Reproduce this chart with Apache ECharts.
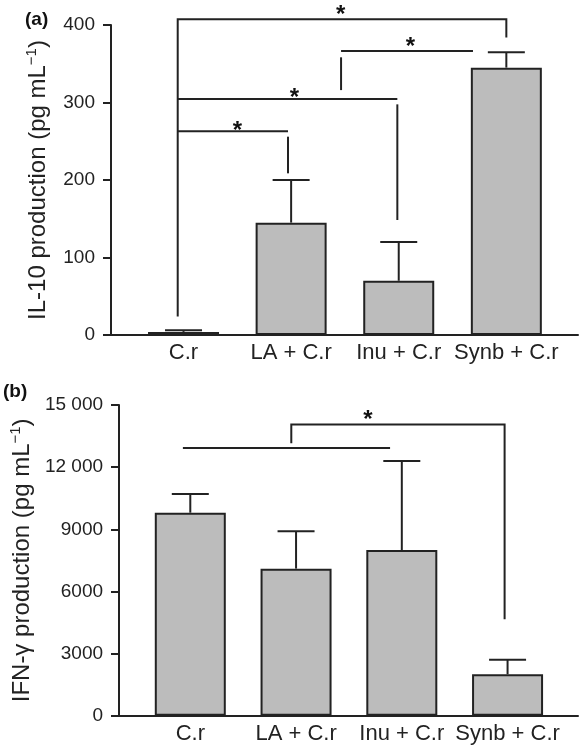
<!DOCTYPE html>
<html>
<head>
<meta charset="utf-8">
<script src="https://cdn.jsdelivr.net/npm/echarts@6/dist/echarts.min.js"></script>
<style>
html,body{margin:0;padding:0;background:#fff;}
#chart{width:582px;height:750px;}
</style>
</head>
<body>
<div id="chart"></div>
<script>
// ---------- data ----------
const categories = ['C.r', 'LA + C.r', 'Inu + C.r', 'Synb + C.r'];
const il10Mean = [4, 145, 70, 345];
const il10Upper = [6, 200, 120, 365];
const ifnMean = [9800, 7100, 8000, 2000];
const ifnUpper = [10700, 8900, 12300, 2700];
const il10Ticks = ['0', '100', '200', '300', '400'];
const ifnTicks = ['0', '3000', '6000', '9000', '12 000', '15 000'];

// significance annotations: polylines in [category index, value]
const il10SigLines = [
  [[-0.054, 24], [-0.054, 407.4], [3.0, 407.4], [3.0, 384]],
  [[-0.054, 304.5], [1.987, 304.5]],
  [[1.987, 297.6], [1.987, 148.4]],
  [[-0.054, 262.8], [0.971, 262.8]],
  [[0.971, 255.9], [0.971, 208.6]],
  [[1.464, 358.3], [1.464, 316]],
  [[1.464, 366.5], [2.69, 366.5]]
];
const il10Stars = [[1.461, 412], [1.03, 305], [0.5, 263], [2.108, 371]];
const ifnSigLines = [
  [[-0.07, 12930], [1.889, 12930]],
  [[0.955, 13159], [0.955, 14058], [2.972, 14058], [2.972, 4657]]
];
const ifnStars = [[1.68, 14250]];

// ---------- styles ----------
const INK = '#222';
const FONT = '"Liberation Sans", Arial, Helvetica, sans-serif';
const BAR_FILL = '#bcbcbc';
const LW = 2;

const chart = echarts.init(document.getElementById('chart'), null, {renderer: 'canvas'});

function xAxisCfg(gridIndex) {
  return {
    type: 'value', gridIndex: gridIndex,
    min: -0.674, max: 3.666,
    axisLine: {show: true, onZero: false, lineStyle: {color: INK, width: LW}},
    axisTick: {show: false},
    splitLine: {show: false},
    axisLabel: {
      customValues: [0, 1, 2, 3],
      formatter: v => categories[Math.round(v)],
      fontFamily: FONT, fontSize: 22, color: '#222', margin: 7
    }
  };
}
function yAxisCfg(gridIndex, max, interval, ticks, nameMain) {
  return {
    type: 'value', gridIndex: gridIndex, min: 0, max: max, interval: interval,
    axisLine: {show: true, onZero: false, lineStyle: {color: INK, width: LW}},
    axisTick: {show: true, length: 8, inside: false, lineStyle: {color: INK, width: LW}},
    splitLine: {show: false},
    axisLabel: {
      formatter: v => ticks[Math.round(v / interval)],
      fontFamily: FONT, fontSize: 19, color: '#222', margin: 16
    },
    name: '{n|' + nameMain + ' (pg mL}{s|−1}{n|)}',
    nameLocation: 'middle', nameRotate: 90, nameGap: 59,
    nameTextStyle: {
      fontFamily: FONT, color: '#222',
      rich: {
        n: {fontFamily: FONT, fontSize: 24, color: '#222', lineHeight: 28},
        s: {fontFamily: FONT, fontSize: 15, color: '#222', lineHeight: 15, verticalAlign: 'top'}
      }
    }
  };
}

function barSeries(idx, means) {
  return {
    type: 'bar', xAxisIndex: idx, yAxisIndex: idx,
    data: means.map((v, i) => [i, v]),
    barWidth: 71,
    itemStyle: {color: BAR_FILL, borderColor: INK, borderWidth: LW},
    silent: true, z: 2
  };
}
function errorSeries(idx, means, uppers) {
  return {
    type: 'custom', xAxisIndex: idx, yAxisIndex: idx,
    data: means.map((v, i) => [i, v, uppers[i]]),
    renderItem: function (params, api) {
      const x = api.value(0);
      const lo = api.coord([x, api.value(1)]);
      const hi = api.coord([x, api.value(2)]);
      const half = 18.5;
      return {
        type: 'group',
        children: [
          {type: 'line', shape: {x1: lo[0], y1: lo[1], x2: hi[0], y2: hi[1]}, style: {stroke: INK, lineWidth: LW}},
          {type: 'line', shape: {x1: hi[0] - half, y1: hi[1], x2: hi[0] + half, y2: hi[1]}, style: {stroke: INK, lineWidth: LW}}
        ]
      };
    },
    clip: false, silent: true, z: 3
  };
}
function sigSeries(idx, lines, stars) {
  const items = lines.map((l, i) => [i, 0]).concat(stars.map((s, i) => [lines.length + i, 1]));
  return {
    type: 'custom', xAxisIndex: idx, yAxisIndex: idx,
    data: items,
    renderItem: function (params, api) {
      const k = params.dataIndex;
      if (k < lines.length) {
        const pts = lines[k].map(p => api.coord(p));
        return {type: 'polyline', shape: {points: pts}, style: {stroke: INK, lineWidth: LW, fill: null}};
      }
      const s = stars[k - lines.length];
      const c = api.coord(s);
      return {
        type: 'text', x: c[0], y: c[1],
        style: {text: '*', fill: '#111', font: 'bold 24px ' + FONT, textAlign: 'center', textVerticalAlign: 'middle'}
      };
    },
    clip: false, silent: true, z: 4
  };
}

const option = {
  animation: false,
  backgroundColor: '#fff',
  grid: [
    {left: 111, right: 4, top: 25, height: 310},
    {left: 111, right: 4, top: 405, height: 310.7}
  ],
  xAxis: [xAxisCfg(0), xAxisCfg(1)],
  yAxis: [
    yAxisCfg(0, 400, 100, il10Ticks, 'IL-10 production'),
    yAxisCfg(1, 15000, 3000, ifnTicks, 'IFN-γ production')
  ],
  series: [
    barSeries(0, il10Mean), errorSeries(0, il10Mean, il10Upper), sigSeries(0, il10SigLines, il10Stars),
    barSeries(1, ifnMean), errorSeries(1, ifnMean, ifnUpper), sigSeries(1, ifnSigLines, ifnStars)
  ],
  graphic: [
    {type: 'text', left: 25, top: 10, style: {text: '(a)', font: 'bold 19px ' + FONT, fill: '#111'}},
    {type: 'text', left: 3, top: 382, style: {text: '(b)', font: 'bold 19px ' + FONT, fill: '#111'}}
  ]
};
chart.setOption(option);
</script>
</body>
</html>
